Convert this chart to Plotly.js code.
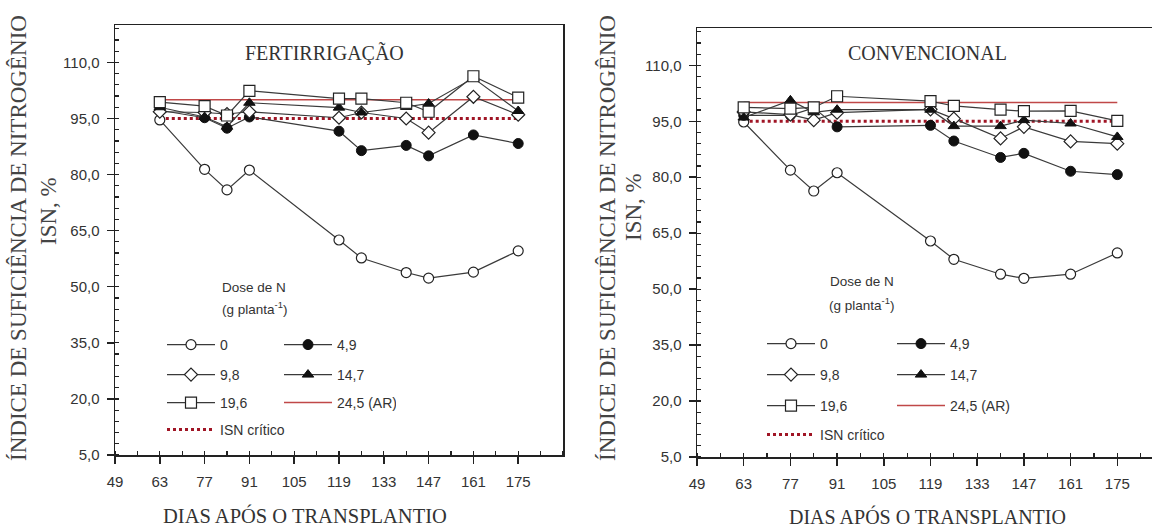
<!DOCTYPE html>
<html>
<head>
<meta charset="utf-8">
<script src="https://cdn.plot.ly/plotly-3.0.1.min.js"></script>
<style>
html,body{margin:0;padding:0;overflow:hidden;background:#fff;}
#chart{width:1166px;height:529px;}
</style>
</head>
<body>
<div id="chart"></div>
<script>
// ---- data ----
const days = [63, 77, 84, 91, 119, 126, 140, 147, 161, 175];
const doseNames = ['0', '4,9', '9,8', '14,7', '19,6', '24,5 (AR)', 'ISN crítico'];

const fert_0    = [94.6, 81.4, 75.9, 81.2, 62.5, 57.7, 53.8, 52.3, 53.9, 59.6];
const fert_4_9  = [97.2, 95.2, 92.4, 95.4, 91.6, 86.4, 87.8, 85.0, 90.6, 88.3];
const fert_9_8  = [96.8, 96.6, 96.2, 96.8, 95.2, 96.6, 95.0, 91.2, 100.8, 96.0];
const fert_14_7 = [98.0, 95.4, 92.8, 99.2, 97.9, 96.6, 98.1, 99.0, 105.8, 97.0];
const fert_19_6 = [99.4, 98.3, 95.8, 102.4, 100.3, 100.3, 99.2, 96.8, 106.3, 100.6];
const fert_24_5 = [100, 100, 100, 100, 100, 100, 100, 100, 100, 100];

const conv_0    = [94.8, 81.9, 76.3, 81.2, 62.9, 58.0, 54.0, 52.9, 54.0, 59.7];
const conv_4_9  = [96.6, 96.6, 98.6, 93.5, 93.9, 89.7, 85.3, 86.4, 81.6, 80.7];
const conv_9_8  = [97.5, 96.8, 95.3, 97.3, 98.2, 95.7, 90.4, 93.5, 89.6, 89.0];
const conv_14_7 = [96.0, 100.6, 97.4, 98.1, 98.1, 93.7, 93.7, 95.3, 94.4, 90.8];
const conv_19_6 = [98.7, 98.4, 98.7, 101.7, 100.4, 99.1, 98.1, 97.7, 97.8, 95.1];
const conv_24_5 = [100, 100, 100, 100, 100, 100, 100, 100, 100, 100];

const isnCritico = [95, 95, 95, 95, 95, 95, 95, 95, 95, 95];

const xTickVals = [49, 63, 77, 91, 105, 119, 133, 147, 161, 175];
const xTickText = ['49', '63', '77', '91', '105', '119', '133', '147', '161', '175'];
const yTickVals = [5, 20, 35, 50, 65, 80, 95, 110];
const yTickText = ['5,0', '20,0', '35,0', '50,0', '65,0', '80,0', '95,0', '110,0'];

const panelTitles = ['FERTIRRIGAÇÃO', 'CONVENCIONAL'];
const yTitle1 = 'ÍNDICE DE SUFICIÊNCIA DE NITROGÊNIO';
const yTitle2 = 'ISN, %';
const xTitle = 'DIAS APÓS O TRANSPLANTIO';

// ---- styling ----
const W = 1166, H = 529;
const px = v => v / W;
const py = v => 1 - v / H;
const SANS = 'Liberation Sans, Arial, sans-serif';
const SERIF = 'Liberation Serif, Times New Roman, serif';
const LINE = '#3a3a3a';
const RED = '#c04848';
const DOT = '#a01525';

const markerStyles = [
  {symbol:'circle', size:10, color:'#ffffff', line:{color:'#222', width:1.2}},
  {symbol:'circle', size:10, color:'#111111', line:{color:'#111', width:1}},
  {symbol:'diamond', size:10, color:'#ffffff', line:{color:'#222', width:1.2}},
  {symbol:'triangle-up', size:10, color:'#111111', line:{color:'#111', width:1}},
  {symbol:'square', size:11, color:'#ffffff', line:{color:'#222', width:1.2}}
];

function panelTraces(xa, ya, series, refLine, legNames) {
  const tr = [];
  tr.push({x: days, y: refLine, xaxis: xa, yaxis: ya, mode: 'lines', name: doseNames[5],
    line: {color: RED, width: 1.5}, legend: legNames[2], legendrank: 2});
  tr.push({x: days, y: isnCritico, xaxis: xa, yaxis: ya, mode: 'lines', name: doseNames[6],
    line: {color: DOT, width: 3, dash: 'dot'}, legend: legNames[3], legendrank: 1});
  const legOf = [0, 0, 1, 1, 2];
  series.forEach((s, i) => {
    tr.push({x: days, y: s, xaxis: xa, yaxis: ya, mode: 'lines+markers', name: doseNames[i],
      line: {color: LINE, width: 1.2}, marker: markerStyles[i],
      legend: legNames[legOf[i]], legendrank: (i === 4 ? 1 : i % 2 + 1)});
  });
  return tr;
}

const traces = [].concat(
  panelTraces('x', 'y', [fert_0, fert_4_9, fert_9_8, fert_14_7, fert_19_6], fert_24_5,
    ['legend', 'legend2', 'legend3', 'legend4']),
  panelTraces('x2', 'y2', [conv_0, conv_4_9, conv_9_8, conv_14_7, conv_19_6], conv_24_5,
    ['legend5', 'legend6', 'legend7', 'legend8'])
);

function xAxis(domain, anchor) {
  return {domain: domain, anchor: anchor, range: [49, 189], showgrid: false, zeroline: false,
    showline: true, mirror: true, linecolor: '#222', linewidth: 1.5,
    tickmode: 'array', tickvals: xTickVals, ticktext: xTickText,
    ticks: 'outside', ticklen: 7, tickwidth: 1.5, tickcolor: '#222', ticklabelstandoff: 5,
    minor: {dtick: 7, tick0: 49, ticks: 'inside', ticklen: 4, tickwidth: 1.2, tickcolor: '#222'},
    tickfont: {family: SANS, size: 15, color: '#333'}, fixedrange: true};
}
function yAxis(domain, anchor) {
  return {domain: domain, anchor: anchor, range: [5, 120], showgrid: false, zeroline: false,
    showline: true, mirror: true, linecolor: '#222', linewidth: 1.5,
    tickmode: 'array', tickvals: yTickVals, ticktext: yTickText,
    ticks: 'outside', ticklen: 7, tickwidth: 1.5, tickcolor: '#222', ticklabelstandoff: 4,
    minor: {dtick: 3, tick0: 5, ticks: 'inside', ticklen: 4, tickwidth: 1.2, tickcolor: '#222'},
    tickfont: {family: SANS, size: 15, color: '#333'}, fixedrange: true};
}

function leg(xPix, yPix, ew) {
  return {orientation: 'h', x: px(xPix), y: py(yPix), xanchor: 'left', yanchor: 'middle',
    bgcolor: 'rgba(0,0,0,0)', borderwidth: 0, itemwidth: 48, entrywidth: ew,
    font: {family: SANS, size: 14, color: '#333'}, traceorder: 'normal', itemclick: false};
}

function ann(text, x, y, opts) {
  return Object.assign({text: text, x: px(x), y: py(y), xref: 'paper', yref: 'paper',
    showarrow: false, xanchor: 'center', yanchor: 'middle'}, opts);
}

const layout = {
  width: W, height: H, margin: {l: 0, r: 0, t: 0, b: 0},
  paper_bgcolor: '#fff', plot_bgcolor: '#fff',
  xaxis: xAxis([px(115), px(563)], 'y'),
  yaxis: yAxis([py(455), py(25)], 'x'),
  xaxis2: xAxis([px(697), px(1164)], 'y2'),
  yaxis2: yAxis([py(457), py(28)], 'x2'),
  legend: leg(162, 345, 54),
  legend2: leg(162, 375, 54),
  legend3: leg(162, 403, 54),
  legend4: leg(162, 430, 120),
  legend5: leg(762, 344, 67),
  legend6: leg(762, 375, 67),
  legend7: leg(762, 406, 67),
  legend8: leg(762, 435, 120),
  annotations: [
    ann(panelTitles[0], 325, 53, {font: {family: SERIF, size: 20, color: '#333'}}),
    ann(panelTitles[1], 927, 53, {font: {family: SERIF, size: 20, color: '#333'}}),
    ann(yTitle1, 18, 238, {textangle: -90, font: {family: SERIF, size: 23, color: '#444'}}),
    ann(yTitle2, 48, 211, {textangle: -90, font: {family: SERIF, size: 23, color: '#444'}}),
    ann(yTitle1, 607, 238, {textangle: -90, font: {family: SERIF, size: 23, color: '#444'}}),
    ann(yTitle2, 634, 207, {textangle: -90, font: {family: SERIF, size: 23, color: '#444'}}),
    ann(xTitle, 305, 515, {font: {family: SERIF, size: 20.5, color: '#333'}}),
    ann(xTitle, 927, 516, {font: {family: SERIF, size: 20, color: '#333'}}),
    ann('Dose de N', 220, 287, {xanchor: 'left', font: {family: SANS, size: 13.5, color: '#333'}}),
    ann('(g planta<sup>-1</sup>)', 220, 308, {xanchor: 'left', font: {family: SANS, size: 13.5, color: '#333'}}),
    ann('Dose de N', 828, 281, {xanchor: 'left', font: {family: SANS, size: 13.5, color: '#333'}}),
    ann('(g planta<sup>-1</sup>)', 827, 304, {xanchor: 'left', font: {family: SANS, size: 13.5, color: '#333'}})
  ]
};

Plotly.newPlot('chart', traces, layout, {staticPlot: true, displayModeBar: false});
</script>
</body>
</html>
